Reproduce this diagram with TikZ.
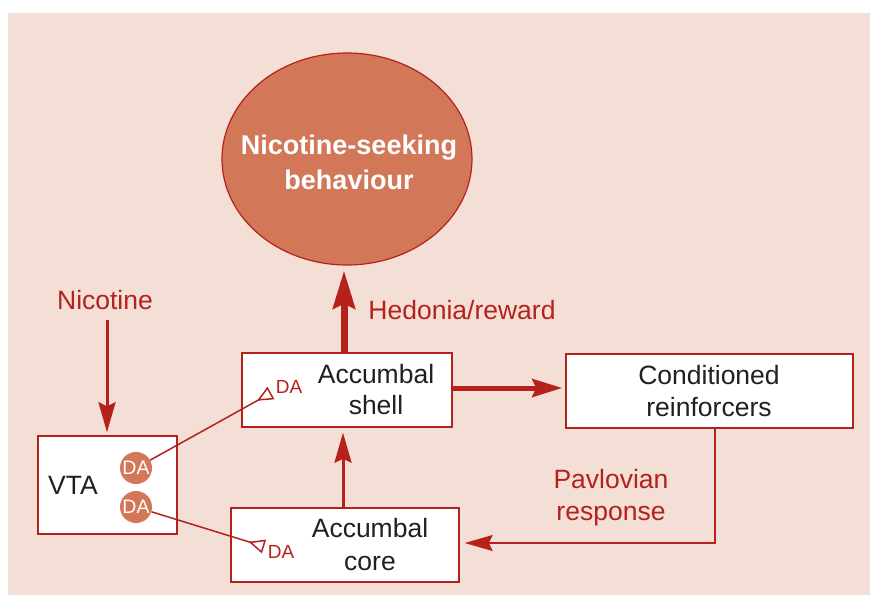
\documentclass[tikz,border=0pt]{standalone}
\usepackage{fontspec}
\setmainfont{Liberation Sans}
\usetikzlibrary{shapes.geometric,arrows.meta}
\definecolor{bg}{HTML}{F3DFD5}
\definecolor{dred}{HTML}{B5211B}
\definecolor{salmon}{HTML}{D27859}
\definecolor{ink}{HTML}{231F20}
\begin{document}
\begin{tikzpicture}[x=1pt,y=-1pt,
  box/.style={draw=dred,line width=1.5pt,fill=white,inner sep=0pt},
  txt/.style={text=ink,font=\fontsize{26.5}{32}\selectfont,inner sep=0pt,anchor=base},
  rtxt/.style={text=dred,font=\fontsize{26.5}{32}\selectfont,inner sep=0pt,anchor=base},
  datxt/.style={text=dred,font=\fontsize{19}{22}\selectfont,inner sep=0pt,anchor=base},
  dacirc/.style={circle,fill=salmon,minimum size=32pt,inner sep=0pt,text=white,font=\fontsize{19.5}{22}\selectfont},
  thick arrow/.style={draw=dred,line width=7pt,-{Stealth[length=38pt,width=22pt,inset=5pt]}},
  mid arrow/.style={draw=dred,line width=5pt,-{Stealth[length=30pt,width=18pt,inset=4pt]}},
  med arrow/.style={draw=dred,line width=3pt,-{Stealth[length=30pt,width=17pt,inset=4pt]}},
  thin arrow/.style={draw=dred,line width=1.5pt,-{Stealth[length=28pt,width=16pt,inset=4pt]}},
  syn/.style={draw=dred,line width=1.5pt,-{Triangle[open,reversed,length=16pt,width=14pt,line width=1.5pt]}}
]
\useasboundingbox (0,0) rectangle (870,595);
\fill[bg] (8,13) rectangle (870,595);

% ellipse
\node[ellipse,draw=dred,line width=1.2pt,fill=salmon,minimum width=250pt,minimum height=212pt,inner sep=0pt] (ell) at (347,159) {};
\node[text=white,font=\fontsize{27}{32}\bfseries\selectfont,inner sep=0pt,anchor=base] (ellt1) at (349,154) {Nicotine-seeking};
\node[text=white,font=\fontsize{27}{32}\bfseries\selectfont,inner sep=0pt,anchor=base] (ellt2) at (349,189) {behaviour};

% boxes
\node[box,minimum width=210pt,minimum height=74pt] (shell) at (347,390) {};
\node[box,minimum width=139pt,minimum height=98pt] (vta) at (107.5,485) {};
\node[box,minimum width=228pt,minimum height=74pt] (core) at (345,545) {};
\node[box,minimum width=287pt,minimum height=74pt] (cond) at (709.5,391) {};

% box texts
\node[txt] (sh1) at (376,383) {Accumbal};
\node[txt] (sh2) at (376,414) {shell};
\node[txt] (co1) at (370,537) {Accumbal};
\node[txt] (co2) at (370,570) {core};
\node[txt] (cd1) at (709,384) {Conditioned};
\node[txt] (cd2) at (709,416) {reinforcers};
\node[txt] (vtat) at (73,494) {VTA};

% red labels
\node[rtxt] (nic) at (105,309) {Nicotine};
\node[rtxt] (hed) at (462,319) {Hedonia/reward};
\node[rtxt] (pav1) at (611,488) {Pavlovian};
\node[rtxt] (pav2) at (611,520) {response};

% DA
\node[dacirc] (da1) at (136,468) {DA};
\node[dacirc] (da2) at (136,507) {DA};
\node[datxt] (dash) at (289,393) {DA};
\node[datxt] (daco) at (281,558) {DA};
\coordinate (synsh) at (271,393);
\coordinate (synco) at (264,546.5);
\draw[syn] (da1) -- (synsh);
\draw[syn] (da2) -- (synco);

% arrows
\coordinate (nicstart) at (107,320);
\draw[med arrow,shorten >=3pt] (nicstart) -- (vta.north -| nicstart);
\draw[thick arrow,shorten >=5pt] (shell.north -| 344,0) -- (ell.south -| 344,0);
\draw[med arrow,shorten >=5pt] (core.north -| 343,0) -- (shell.south -| 343,0);
\draw[mid arrow,shorten >=3pt] (shell.east |- 0,388) -- (cond.west |- 0,388);
\draw[thin arrow,shorten >=5pt] (cond.south -| 715,0) -- (715,543) -- (core.east |- 0,543);
\end{tikzpicture}
\end{document}
